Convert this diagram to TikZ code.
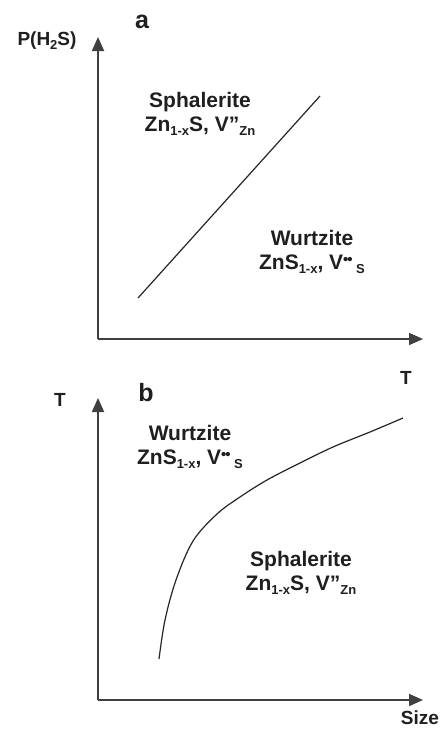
\documentclass[tikz,border=0pt]{standalone}
\usepackage{fontspec}
\setmainfont{Liberation Sans}
\usetikzlibrary{arrows.meta}
\newcommand{\lowtxt}[1]{\raisebox{-0.35ex}{\fontsize{13}{13}\selectfont #1}}
\newcommand{\dotsup}{\raisebox{0.45ex}{\fontsize{15}{15}\selectfont\textbullet\kern-1pt\textbullet}}
\begin{document}
\begin{tikzpicture}[x=1pt,y=-1pt,
  axis/.style={draw=black!75, line width=1.8pt, -{Triangle[length=14pt,width=12pt]}},
  curve/.style={draw=black!85, line width=1.2pt},
  lbl/.style={text=black!88, font=\fontsize{21}{23}\selectfont\bfseries, inner sep=0pt, align=center},
  axlbl/.style={text=black!88, font=\fontsize{19}{21}\selectfont\bfseries, inner sep=0pt},
  panel/.style={text=black!88, font=\fontsize{25}{27}\selectfont\bfseries, inner sep=0pt}]
\useasboundingbox (0,0) rectangle (443,729);
\fill[white] (0,0) rectangle (443,729);
% panel a
\coordinate (oa) at (98,339);
\coordinate (ya) at (98,37);
\coordinate (xa) at (423,339);
\draw[axis] (oa) -- (ya);
\draw[axis] (oa) -- (xa);
\coordinate (la1) at (138,298);
\coordinate (la2) at (320,96);
\draw[curve] (la1) -- (la2);
\node[axlbl] (pa) at (47,41) {P(H\lowtxt{2}S)};
\node[panel] (na) at (142,22) {a};
\node[lbl] (sa) at (200,114) {Sphalerite\\[1pt]Zn\lowtxt{1-x}S, V''\lowtxt{Zn}};
\node[lbl] (wa) at (312,252) {Wurtzite\\[1pt]ZnS\lowtxt{1-x}, V\dotsup\,\lowtxt{S}};
% panel b
\coordinate (ob) at (98,700);
\coordinate (yb) at (98,398);
\coordinate (xb) at (423,700);
\draw[axis] (ob) -- (yb);
\draw[axis] (ob) -- (xb);
\draw[curve] plot[smooth, tension=0.55] coordinates {(159,659) (165,620) (176,580) (193,541) (217,514) (240,497) (267,480) (300,463) (333,447) (370,432) (403,418)};
\node[axlbl] (tb) at (60,400) {T};
\node[axlbl] (tr) at (406,378) {T};
\node[axlbl] (sz) at (420,718) {Size};
\node[panel] (nb) at (146,393) {b};
\node[lbl] (wb) at (190,447) {Wurtzite\\[1pt]ZnS\lowtxt{1-x}, V\dotsup\,\lowtxt{S}};
\node[lbl] (sb) at (301,573) {Sphalerite\\[1pt]Zn\lowtxt{1-x}S, V''\lowtxt{Zn}};
\end{tikzpicture}
\end{document}
